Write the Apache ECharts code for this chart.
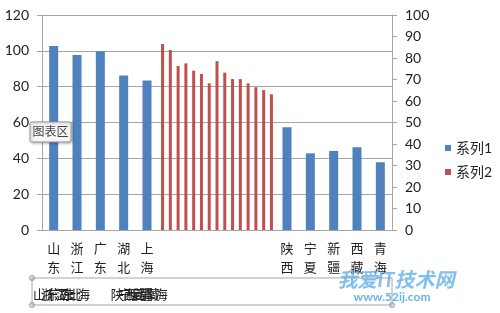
<!DOCTYPE html>
<html>
<head>
<meta charset="utf-8">
<script src="https://cdn.jsdelivr.net/npm/echarts@6/dist/echarts.min.js"></script>
<style>html,body{margin:0;padding:0;background:#fff}#c{width:500px;height:313px}</style>
</head>
<body>
<div id="c"></div>
<script>
var categories = ['山东','浙江','广东','湖北','上海','','','','','','陕西','宁夏','新疆','西藏','青海'];
var series1Values = [102.7, 97.7, 99.7, 86.3, 83.5, null, null, null, null, null, 57.3, 42.8, 44.1, 46.2, 37.8];
var series2Values = [86.5, 83.7, 76.3, 77.5, 74.1, 72.6, 68.2, 78.5, 73.2, 70.2, 70.2, 68.2, 66.4, 65.1, 63.1];
var series2Lead = 15, series2Tail = 15;
var leftTicks = {min: 0, max: 120, interval: 20};
var rightTicks = {min: 0, max: 100, interval: 10};
var seriesNames = ['系列1', '系列2'];

var sec2Cats = categories.concat(new Array(series2Lead + series2Tail).fill(''));
var s2Data = new Array(series2Lead).fill(null).concat(series2Values).concat(new Array(series2Tail).fill(null));

var FONT = 'Lato, "Noto Sans CJK SC", sans-serif';
var GRAY = '#a6a6a6';
var chart = echarts.init(document.getElementById('c'));
chart.setOption({
  animation: false,
  textStyle: {fontFamily: FONT},
  grid: {left: 42, right: 108, top: 15, bottom: 83, containLabel: false},
  legend: {
    orient: 'vertical', left: 440, top: 136, icon: 'rect', itemWidth: 6, itemHeight: 6, itemGap: 10,
    textStyle: {fontSize: 14, color: '#222', fontFamily: FONT},
    data: seriesNames
  },
  xAxis: [{
    type: 'category', data: categories, position: 'bottom',
    axisLine: {lineStyle: {color: GRAY}},
    axisTick: {interval: 0, length: 5, lineStyle: {color: GRAY}},
    axisLabel: {interval: 0, margin: 9, fontSize: 13, lineHeight: 19, color: '#222',
      formatter: function (v) { return v.split('').join('\n'); }}
  }, {
    type: 'category', data: sec2Cats, position: 'bottom', offset: 48,
    axisLine: {lineStyle: {color: GRAY}},
    axisTick: {interval: 0, length: 4, lineStyle: {color: GRAY}},
    axisLabel: {interval: 0, margin: 10, fontSize: 13, color: '#222', hideOverlap: false}
  }],
  yAxis: [{
    type: 'value', min: leftTicks.min, max: leftTicks.max, interval: leftTicks.interval, position: 'left',
    axisLine: {show: true, lineStyle: {color: GRAY}},
    axisTick: {show: true, length: 5, lineStyle: {color: GRAY}},
    axisLabel: {margin: 13, fontSize: 14, color: '#222'},
    splitLine: {show: true, lineStyle: {color: GRAY}}
  }, {
    type: 'value', min: rightTicks.min, max: rightTicks.max, interval: rightTicks.interval, position: 'right',
    axisLine: {show: true, lineStyle: {color: GRAY}},
    axisTick: {show: true, length: 5, lineStyle: {color: GRAY}},
    axisLabel: {margin: 13, fontSize: 14, color: '#222'},
    splitLine: {show: false}
  }],
  series: [{
    name: seriesNames[0], type: 'bar', xAxisIndex: 0, yAxisIndex: 0, barWidth: 9,
    itemStyle: {color: '#4f81bd'}, data: series1Values
  }, {
    name: seriesNames[1], type: 'bar', xAxisIndex: 1, yAxisIndex: 1, barWidth: 3,
    itemStyle: {color: '#c0504d'}, data: s2Data
  }],
  graphic: [
    {type: 'rect', shape: {x: 32, y: 278, width: 360, height: 27}, style: {fill: 'none', stroke: GRAY, lineWidth: 1}, z: 1},
    {type: 'circle', shape: {cx: 32, cy: 278, r: 2.5}, style: {fill: '#dbe6f3', stroke: '#7a9cc6'}},
    {type: 'circle', shape: {cx: 32, cy: 305, r: 2.5}, style: {fill: '#dbe6f3', stroke: '#7a9cc6'}},
    {type: 'circle', shape: {cx: 392, cy: 305, r: 2.5}, style: {fill: '#dbe6f3', stroke: '#7a9cc6'}},
    {type: 'rect', shape: {x: 30, y: 122, width: 41, height: 20, r: 2},
      style: {fill: '#f7f7f7', stroke: '#999', lineWidth: 1, shadowBlur: 3, shadowColor: 'rgba(0,0,0,0.3)', shadowOffsetX: 1, shadowOffsetY: 1}, z: 100},
    {type: 'text', x: 50.5, y: 132, style: {text: '图表区', fontSize: 12, fill: '#444', align: 'center', verticalAlign: 'middle', fontFamily: FONT}, z: 101},
    {type: 'text', x: 396, y: 281, style: {text: '我爱IT技术网', fontSize: 20, fontWeight: 'bold', fontStyle: 'italic', fill: 'rgba(90,170,230,0.75)', align: 'center', verticalAlign: 'middle', fontFamily: FONT}, z: 102},
    {type: 'text', x: 392, y: 297, style: {text: 'www.52ij.com', fontSize: 12, fontWeight: 'bold', fill: 'rgba(70,160,225,0.8)', align: 'center', verticalAlign: 'middle', fontFamily: FONT}, z: 102}
  ]
});
</script>
</body>
</html>
